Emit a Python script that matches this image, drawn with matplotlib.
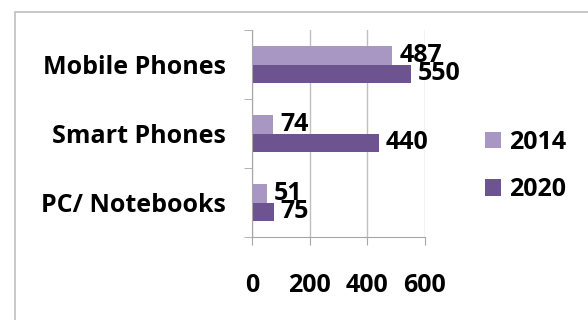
import matplotlib.pyplot as plt
from matplotlib.patches import Rectangle
import numpy as np

# categories top to bottom
categories = ["Mobile Phones", "Smart Phones", "PC/ Notebooks"]
values_2014 = [487, 74, 51]
values_2020 = [550, 440, 75]
series_labels = ["2014", "2020"]
x_ticks = [0, 200, 400, 600]

color_2014 = "#A797C2"
color_2020 = "#6D5390"
font = "Open Sans"
fs_cat = 18
fs_num = 18

fig = plt.figure(figsize=(5.88, 3.2), dpi=100)
# outer chart frame, as in the spreadsheet export
fig.patches.append(Rectangle((15 / 588, -0.1), 1.0, 1 - 12 / 320 + 0.1,
                             transform=fig.transFigure, fill=False,
                             edgecolor="#BFBFBF", linewidth=1.2))

ax = fig.add_axes([252 / 588, 1 - 237 / 320, 173 / 588, 207 / 320])

y = np.arange(len(categories))
h = 0.275
b1 = ax.barh(y - h / 2, values_2014, height=h, color=color_2014, label=series_labels[0])
b2 = ax.barh(y + h / 2, values_2020, height=h, color=color_2020, label=series_labels[1])
for bars in (b1, b2):
    ax.bar_label(bars, padding=5, fontsize=fs_num, fontweight="bold", family=font)

ax.set_xlim(0, 600)
ax.set_ylim(2.5, -0.5)
ax.set_xticks(x_ticks)
ax.set_xticklabels([str(t) for t in x_ticks], fontsize=fs_num, fontweight="bold", family=font)
ax.tick_params(axis="x", direction="out", length=6, color="#A6A6A6", pad=20)
ax.set_yticks(y)
ax.set_yticklabels(categories, fontsize=fs_cat, fontweight="bold", family=font)
ax.tick_params(axis="y", length=0, pad=19)
ax.set_yticks([-0.5, 0.5, 1.5, 2.5], minor=True)
ax.tick_params(axis="y", which="minor", direction="out", length=6, color="#A6A6A6")

ax.grid(axis="x", color="#BFBFBF", linewidth=1)
ax.set_axisbelow(True)
for s in ("top", "right"):
    ax.spines[s].set_visible(False)
for s in ("left", "bottom"):
    ax.spines[s].set_color("#A6A6A6")

ax.legend(loc="center left", bbox_to_anchor=(462 / 588, 1 - 166 / 320),
          bbox_transform=fig.transFigure, frameon=False,
          prop={"family": font, "weight": "bold", "size": fs_num},
          handlelength=0.65, handleheight=0.65, handletextpad=0.35,
          labelspacing=0.9)

fig.savefig("out.png", dpi=100)
